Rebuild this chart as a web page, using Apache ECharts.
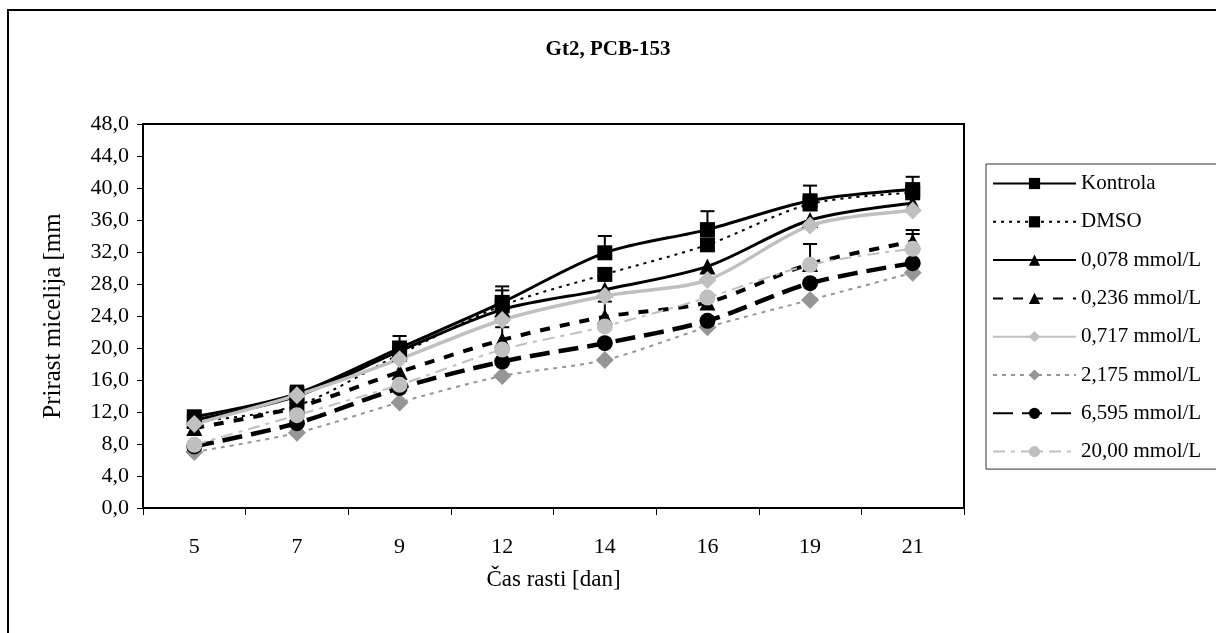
<!DOCTYPE html>
<html>
<head>
<meta charset="utf-8">
<script src="https://cdn.jsdelivr.net/npm/echarts@6/dist/echarts.min.js"></script>
<style>
html,body{margin:0;padding:0;background:#fff;}
#chart{width:1216px;height:633px;}
</style>
</head>
<body>
<div id="chart"></div>
<script>
// ---- data ----
var categories = ['5', '7', '9', '12', '14', '16', '19', '21'];
var seriesNames = ['Kontrola', 'DMSO', '0,078 mmol/L', '0,236 mmol/L', '0,717 mmol/L', '2,175 mmol/L', '6,595 mmol/L', '20,00 mmol/L'];
var kontrola = [11.4, 14.3, 20.0, 25.7, 31.9, 34.8, 38.4, 39.8];
var dmso     = [10.8, 12.8, 19.2, 25.3, 29.2, 32.9, 38.0, 39.4];
var c0078    = [11.0, 14.0, 19.6, 24.8, 27.3, 30.2, 36.0, 38.1];
var c0236    = [10.0, 12.6, 17.0, 21.0, 23.9, 25.7, 30.5, 33.3];
var c0717    = [10.5, 14.1, 18.6, 23.5, 26.5, 28.5, 35.3, 37.2];
var c2175    = [7.0, 9.4, 13.2, 16.5, 18.5, 22.6, 26.0, 29.4];
var c6595    = [7.7, 10.6, 15.0, 18.3, 20.6, 23.4, 28.1, 30.6];
var c2000    = [7.9, 11.6, 15.4, 19.8, 22.7, 26.3, 30.4, 32.4];
// upper error bar lengths (0 = none visible)
var errKontrola = [0, 1.0, 1.5, 2.0, 2.1, 2.3, 1.9, 1.6];
var errDmso     = [0, 0, 0, 1.9, 0, 0, 0, 0.9];
var err0236     = [0, 0, 0, 1.6, 1.9, 0, 2.5, 1.45];
var err2000     = [0, 0, 0, 0, 0, 0, 0, 1.85];
var yMin = 0, yMax = 48, yInterval = 4;

// ---- styles ----
var LG = '#c0c0c0', MG = '#969696';
var FONT = 'Liberation Serif';

function lineSeries(name, data, color, width, type, symbol, size) {
  return {
    name: name, type: 'line', data: data, smooth: 0.3,
    symbol: symbol, symbolSize: size, showSymbol: true,
    lineStyle: { color: color, width: width, type: type },
    itemStyle: { color: color, borderWidth: 0 },
    emphasis: { disabled: true },
    animation: false
  };
}

function errSeries(values, errs, color) {
  var d = [];
  for (var i = 0; i < values.length; i++) {
    if (errs[i] > 0) d.push([i, values[i], errs[i]]);
  }
  return {
    type: 'custom', data: d, silent: true, animation: false, z: 1,
    renderItem: function (params, api) {
      var i = api.value(0), v = api.value(1), e = api.value(2);
      var p0 = api.coord([i, v]);
      var p1 = api.coord([i, v + e]);
      var hw = 7;
      return {
        type: 'group',
        children: [
          { type: 'line', shape: { x1: p0[0], y1: p0[1], x2: p1[0], y2: p1[1] }, style: { stroke: color, lineWidth: 2 } },
          { type: 'line', shape: { x1: p1[0] - hw, y1: p1[1], x2: p1[0] + hw, y2: p1[1] }, style: { stroke: color, lineWidth: 2 } }
        ]
      };
    }
  };
}

var chart = echarts.init(document.getElementById('chart'), null, { renderer: 'canvas' });
var option = {
  backgroundColor: '#fff',
  animation: false,
  title: {
    text: 'Gt2, PCB-153', left: 'center', top: 34,
    textStyle: { fontFamily: FONT, fontSize: 21, fontWeight: 'bold', color: '#000' }
  },
  graphic: [
    { type: 'rect', shape: { x: 8, y: 10, width: 1230, height: 660 }, style: { fill: null, stroke: '#000', lineWidth: 2 }, z: -1 }
  ],
  grid: {
    left: 143, right: 252, top: 124, bottom: 125,
    show: true, borderColor: '#000', borderWidth: 2, backgroundColor: 'transparent'
  },
  legend: {
    orient: 'vertical', left: 986, top: 164,
    data: seriesNames,
    itemWidth: 83, itemHeight: 14, itemGap: 17.3,
    padding: [9, 40, 7, 6],
    borderColor: '#333', borderWidth: 1, backgroundColor: '#fff',
    textStyle: { fontFamily: FONT, fontSize: 21, color: '#000' },
    selectedMode: false
  },
  xAxis: {
    type: 'category', data: categories, boundaryGap: true,
    name: 'Čas rasti [dan]', nameLocation: 'middle', nameGap: 60,
    nameTextStyle: { fontFamily: FONT, fontSize: 23, color: '#000' },
    axisLine: { lineStyle: { color: '#000', width: 2 } },
    axisTick: { show: true, length: 7, inside: false, interval: 0, lineStyle: { color: '#000', width: 1 } },
    axisLabel: { fontFamily: FONT, fontSize: 22, color: '#000', margin: 28, interval: 0 },
    splitLine: { show: false }
  },
  yAxis: {
    type: 'value', min: yMin, max: yMax, interval: yInterval,
    name: 'Prirast micelija [mm', nameLocation: 'middle', nameGap: 77, nameRotate: 90,
    nameTextStyle: { fontFamily: FONT, fontSize: 25, color: '#000' },
    axisLine: { show: true, lineStyle: { color: '#000', width: 2 } },
    axisTick: { show: true, length: 6, lineStyle: { color: '#000', width: 1 } },
    axisLabel: {
      fontFamily: FONT, fontSize: 22, color: '#000', margin: 14,
      formatter: function (v) { return v.toFixed(1).replace('.', ','); }
    },
    splitLine: { show: false }
  },
  series: [
    errSeries(kontrola, errKontrola, '#000'),
    errSeries(dmso, errDmso, '#000'),
    errSeries(c0236, err0236, '#000'),
    errSeries(c2000, err2000, '#000'),
    lineSeries(seriesNames[0], kontrola, '#000', 3, 'solid', 'rect', 15),
    lineSeries(seriesNames[1], dmso, '#000', 2, [3, 5], 'rect', 15),
    lineSeries(seriesNames[2], c0078, '#000', 3, 'solid', 'triangle', 16),
    lineSeries(seriesNames[3], c0236, '#000', 4, [10, 10], 'triangle', 16),
    lineSeries(seriesNames[4], c0717, LG, 3.5, 'solid', 'diamond', 18),
    lineSeries(seriesNames[5], c2175, MG, 2, [4, 5], 'diamond', 18),
    lineSeries(seriesNames[6], c6595, '#000', 4.5, [20, 9], 'circle', 16),
    lineSeries(seriesNames[7], c2000, LG, 2, [12, 6, 4, 6], 'circle', 16)
  ]
};
chart.setOption(option);
</script>
</body>
</html>
